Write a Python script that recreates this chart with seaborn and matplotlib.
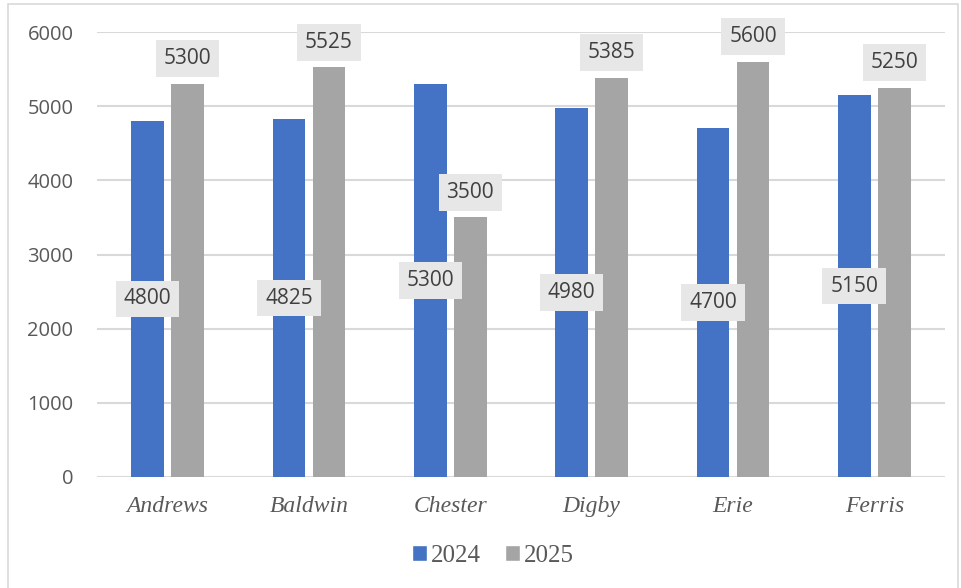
import matplotlib
matplotlib.use("Agg")
import matplotlib.pyplot as plt
import seaborn as sns
import pandas as pd
from matplotlib.patches import Rectangle

categories = ["Andrews", "Baldwin", "Chester", "Digby", "Erie", "Ferris"]
years = ["2024", "2025"]
values_2024 = [4800, 4825, 5300, 4980, 4700, 5150]
values_2025 = [5300, 5525, 3500, 5385, 5600, 5250]
yticks = [0, 1000, 2000, 3000, 4000, 5000, 6000]

df = pd.DataFrame({
    "Team": categories * 2,
    "Year": [years[0]] * len(categories) + [years[1]] * len(categories),
    "Value": values_2024 + values_2025,
})

sns.set_theme(style="white")
fig = plt.figure(figsize=(9.61, 5.88), dpi=100)
ax = fig.add_axes([97/961, 1 - 477/588, (945-97)/961, (477-32)/588])

palette = {"2024": "#4472C4", "2025": "#A5A5A5"}
sns.barplot(data=df, x="Team", y="Value", hue="Year", hue_order=years,
            palette=palette, width=0.566, gap=0.177, ax=ax, legend=False,
            saturation=1, edgecolor="none")

ax.set_ylim(0, 6000)
ax.set_yticks(yticks)
ax.set_yticklabels([str(t) for t in yticks], fontsize=14.5, color="#595959",
                   fontfamily="Open Sans")
ax.tick_params(axis="y", length=0, pad=17)
ax.tick_params(axis="x", length=0, pad=14)
ax.set_xlim(-0.5, len(categories) - 0.5)
ax.set_xticks(range(len(categories)))
ax.set_xticklabels(categories)
for lbl in ax.get_xticklabels():
    lbl.set_fontfamily("Liberation Serif")
    lbl.set_fontstyle("italic")
    lbl.set_fontsize(17)
    lbl.set_color("#595959")
ax.set_xlabel("")
ax.set_ylabel("")
for s in ax.spines.values():
    s.set_visible(False)
ax.yaxis.grid(True, color="#D9D9D9", linewidth=1.5)
ax.set_axisbelow(True)

box = dict(boxstyle="square,pad=0.38", facecolor="#E7E7E7", edgecolor="none")
containers = ax.containers
for bar, v in zip(containers[0], values_2024):
    x = bar.get_x() + bar.get_width() / 2
    ax.text(x, bar.get_height() / 2, str(v), ha="center", va="center",
            fontsize=15, color="#404040", fontfamily="Open Sans", bbox=box, zorder=5)
for bar, v in zip(containers[1], values_2025):
    x = bar.get_x() + bar.get_width() / 2
    ax.annotate(str(v), (x, bar.get_height()), xytext=(0, 18), textcoords="offset points",
                ha="center", va="center", fontsize=15, color="#404040",
                fontfamily="Open Sans", bbox=box, zorder=5, annotation_clip=False)

handles = [Rectangle((0, 0), 1, 1, facecolor=palette[y]) for y in years]
fig.legend(handles, years, loc="center", bbox_to_anchor=(493/961, 1 - 556/588),
           ncol=2, frameon=False, handlelength=0.6, handleheight=0.6,
           handletextpad=0.15, columnspacing=1.0,
           prop={"family": "Liberation Serif", "size": 18}, labelcolor="#595959")

fig.patches.append(Rectangle((8/961, -0.1), (958-8)/961, 1.1 - 4/588,
                             transform=fig.transFigure, facecolor="none",
                             edgecolor="#D9D9D9", linewidth=1.2))

fig.savefig("out.png", dpi=100)
